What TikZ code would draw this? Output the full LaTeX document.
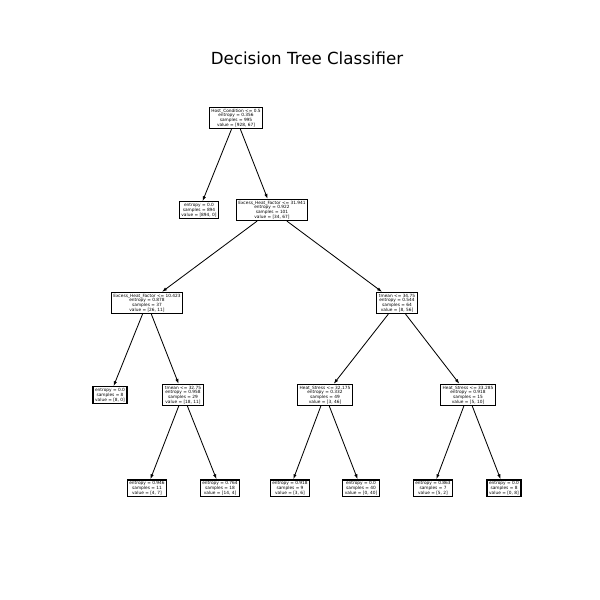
\documentclass[tikz,border=0pt]{standalone}
\usepackage{fontspec}
\setmainfont{DejaVu Sans}
\usetikzlibrary{arrows.meta}
\begin{document}
\begin{tikzpicture}[x=0.72pt,y=-0.72pt,
  tn/.style={draw=black,line width=0.9pt,fill=white,align=center,inner xsep=1.5pt,inner ysep=1.1pt,
    font=\fontsize{3.1}{3.4}\selectfont},
  edge/.style={line width=0.6pt,-{Latex[length=3.6pt,width=2.4pt]}}]
\useasboundingbox (0,0) rectangle (600,600);
\node[font=\fontsize{12}{14}\selectfont] (title) at (307,58) {Decision Tree Classifier};
\node[tn] (r) at (236,118) {Host\_Condition <= 0.5\\entropy = 0.356\\samples = 995\\value = [928, 67]};
\node[tn] (a) at (199,210) {entropy = 0.0\\samples = 894\\value = [894, 0]};
\node[tn] (b) at (272,210) {Excess\_Heat\_Factor <= 31.941\\entropy = 0.922\\samples = 101\\value = [34, 67]};
\node[tn] (c) at (147,303) {Excess\_Heat\_Factor <= 10.423\\entropy = 0.878\\samples = 37\\value = [26, 11]};
\node[tn] (d) at (397,303) {tmean <= 34.75\\entropy = 0.544\\samples = 64\\value = [8, 56]};
\node[tn] (e) at (110,395) {entropy = 0.0\\samples = 8\\value = [8, 0]};
\node[tn] (f) at (183,395) {tmean <= 32.75\\entropy = 0.958\\samples = 29\\value = [18, 11]};
\node[tn] (g) at (325,395) {Heat\_Stress <= 32.175\\entropy = 0.332\\samples = 49\\value = [3, 46]};
\node[tn] (h) at (468,395) {Heat\_Stress <= 33.285\\entropy = 0.918\\samples = 15\\value = [5, 10]};
\node[tn] (i) at (147,488) {entropy = 0.946\\samples = 11\\value = [4, 7]};
\node[tn] (j) at (220,488) {entropy = 0.764\\samples = 18\\value = [14, 4]};
\node[tn] (k) at (290,488) {entropy = 0.918\\samples = 9\\value = [3, 6]};
\node[tn] (l) at (361,488) {entropy = 0.0\\samples = 40\\value = [0, 40]};
\node[tn] (m) at (433,488) {entropy = 0.863\\samples = 7\\value = [5, 2]};
\node[tn] (n) at (504,488) {entropy = 0.0\\samples = 8\\value = [0, 8]};
\draw[edge] (r) -- (a);
\draw[edge] (r) -- (b);
\draw[edge] (b) -- (c);
\draw[edge] (b) -- (d);
\draw[edge] (c) -- (e);
\draw[edge] (c) -- (f);
\draw[edge] (d) -- (g);
\draw[edge] (d) -- (h);
\draw[edge] (f) -- (i);
\draw[edge] (f) -- (j);
\draw[edge] (g) -- (k);
\draw[edge] (g) -- (l);
\draw[edge] (h) -- (m);
\draw[edge] (h) -- (n);
\end{tikzpicture}
\end{document}
